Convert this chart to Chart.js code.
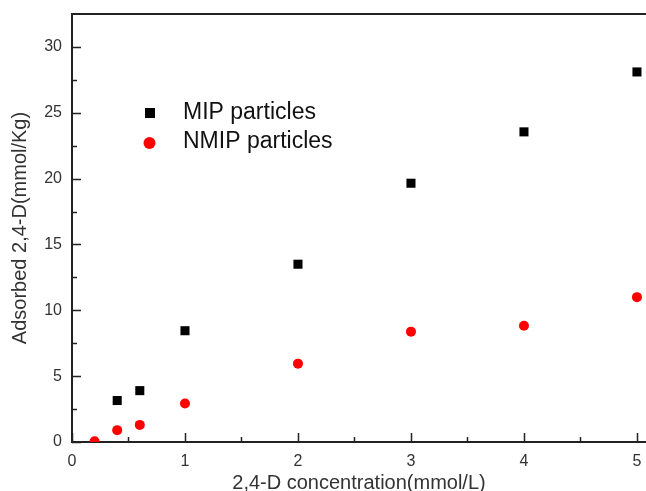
<!DOCTYPE html>
<html lang="en">
<head>
  <meta charset="UTF-8">
  <title>2,4-D adsorption</title>
  <script src="https://cdn.jsdelivr.net/npm/chart.js"></script>
  <style>
    html, body { margin: 0; padding: 0; background: #ffffff; }
    #wrap { width: 646px; height: 491px; }
  </style>
</head>
<body>
  <div id="wrap"><canvas id="myCanvas"></canvas></div>

<script>
  // concentration (mmol/L)
  const concMip = [0.4, 0.6, 1, 2, 3, 4, 5];
  const concNmip = [0.2, 0.4, 0.6, 1, 2, 3, 4, 5];

  // adsorbed amount (mmol/Kg)
  const mipValues = [3.15, 3.9, 8.45, 13.5, 19.65, 23.55, 28.1];
  const nmipValues = [0.05, 0.9, 1.3, 2.93, 5.95, 8.38, 8.83, 11.0];

  const seriesNames = ["MIP particles", "NMIP particles"];
  const xTitle = "2,4-D concentration(mmol/L)";
  const yTitle = "Adsorbed 2,4-D(mmol/Kg)";

  const axisColor = "#222222";
  const textColor = "#333333";
  const fontName = "'Liberation Sans', Arial, sans-serif";

  function pares(xs, ys) {
    let pts = [];
    for (let i = 0; i < xs.length; i++) {
      pts.push({ x: xs[i], y: ys[i] });
    }
    return pts;
  }

  // frame on top + inward tick marks (major and minor)
  const moldura = {
    id: "moldura",
    afterDraw(chart) {
      const ctx = chart.ctx;
      const area = chart.chartArea;
      const sx = chart.scales.x;
      const sy = chart.scales.y;
      ctx.save();
      ctx.strokeStyle = axisColor;
      ctx.lineWidth = 2;
      ctx.beginPath();
      ctx.moveTo(area.left - 1, area.top);
      ctx.lineTo(area.right, area.top);
      ctx.stroke();

      ctx.lineWidth = 1.5;
      ctx.beginPath();
      for (let v = 0; v <= 5; v += 0.5) {
        const px = Math.round(sx.getPixelForValue(v)) + 0.5;
        const len = Number.isInteger(v) ? 9 : 5;
        ctx.moveTo(px, area.bottom);
        ctx.lineTo(px, area.bottom - len);
      }
      for (let v = 0; v <= 30; v += 2.5) {
        const py = Math.round(sy.getPixelForValue(v)) + 0.5;
        const len = v % 5 === 0 ? 9 : 5;
        ctx.moveTo(area.left, py);
        ctx.lineTo(area.left + len, py);
      }
      ctx.stroke();
      ctx.restore();
    },
  };

  // legend drawn inside the plot, like the figure
  const legenda = {
    id: "legenda",
    afterDraw(chart) {
      const ctx = chart.ctx;
      ctx.save();
      ctx.font = "23px " + fontName;
      ctx.textBaseline = "middle";
      ctx.textAlign = "left";

      ctx.fillStyle = "#000000";
      ctx.fillRect(145, 108, 10, 10);
      ctx.beginPath();
      ctx.fillStyle = "#ff0000";
      ctx.arc(149.5, 143, 6, 0, Math.PI * 2);
      ctx.fill();

      ctx.fillStyle = "#111111";
      ctx.fillText(seriesNames[0], 183, 113);
      ctx.fillText(seriesNames[1], 183, 142);
      ctx.restore();
    },
  };

  const dados = {
    datasets: [
      {
        label: seriesNames[0],
        data: pares(concMip, mipValues),
        pointStyle: "rect",
        pointRadius: 6.4,
        backgroundColor: "#000000",
        borderColor: "#000000",
        borderWidth: 0,
        clip: 0,
      },
      {
        label: seriesNames[1],
        data: pares(concNmip, nmipValues),
        pointStyle: "circle",
        pointRadius: 5,
        backgroundColor: "#ff0000",
        borderColor: "#ff0000",
        borderWidth: 0,
        clip: 0,
      },
    ],
  };

  const config = {
    type: "scatter",
    data: dados,
    options: {
      responsive: true,
      maintainAspectRatio: false,
      animation: false,
      events: [],
      layout: {
        autoPadding: false,
        padding: { top: 14, left: 0, right: 0, bottom: 0 },
      },
      plugins: {
        legend: { display: false },
        tooltip: { enabled: false },
      },
      scales: {
        x: {
          type: "linear",
          min: 0,
          max: 5.08,
          afterFit: (s) => {
            s.height = 49;
            s.paddingLeft = 0;
            s.paddingRight = 0;
          },
          grid: { display: false, drawTicks: false },
          border: { display: true, color: axisColor, width: 2 },
          ticks: {
            stepSize: 1,
            includeBounds: false,
            padding: 10,
            color: textColor,
            font: { family: fontName, size: 16 },
          },
          title: {
            display: true,
            text: xTitle,
            color: textColor,
            font: { family: fontName, size: 20 },
            padding: { top: 0, bottom: -4 },
          },
        },
        y: {
          type: "linear",
          min: 0,
          max: 32.5,
          afterFit: (s) => {
            s.width = 72;
            s.paddingTop = 0;
            s.paddingBottom = 0;
          },
          grid: { display: false, drawTicks: false },
          border: { display: true, color: axisColor, width: 2 },
          ticks: {
            stepSize: 5,
            includeBounds: false,
            padding: 10,
            color: textColor,
            font: { family: fontName, size: 16 },
          },
          title: {
            display: true,
            text: yTitle,
            color: textColor,
            font: { family: fontName, size: 20 },
            padding: { top: 8, bottom: 0 },
          },
        },
      },
    },
    plugins: [moldura, legenda],
  };

  const myChart = new Chart(document.getElementById("myCanvas"), config);
</script>
</body>
</html>
